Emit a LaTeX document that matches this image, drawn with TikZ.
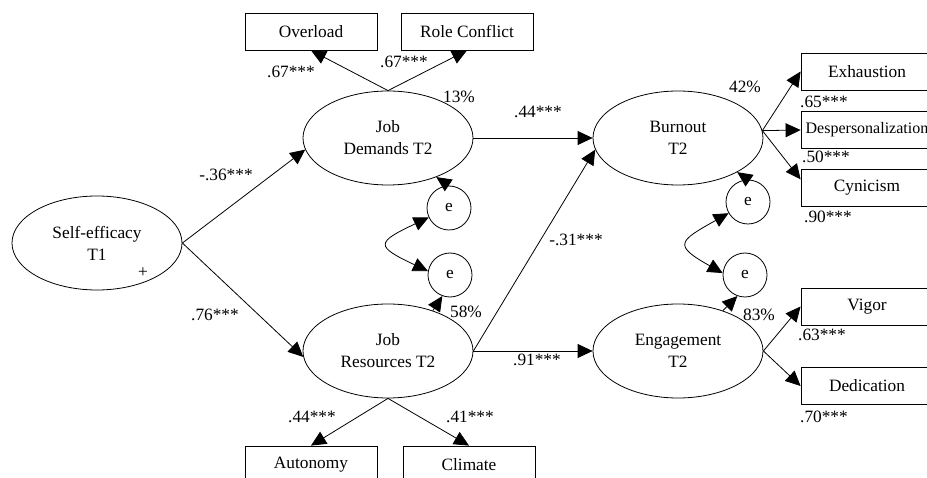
\documentclass[tikz,border=0pt]{standalone}
\usepackage{fontspec}
\setmainfont{Liberation Serif}
\usetikzlibrary{arrows.meta,shapes.geometric,positioning}

\begin{document}
\begin{tikzpicture}[x=1pt,y=-1pt,
    line width=0.8pt,
    font=\fontsize{17.3}{22}\selectfont,
    latent/.style={draw, ellipse, minimum width=170pt, minimum height=94pt, inner sep=0pt, align=center},
    indicator/.style={draw, rectangle, minimum width=132pt, minimum height=37pt, inner sep=0pt},
    errterm/.style={draw, circle, minimum size=44pt, inner sep=0pt},
    effect/.style={-{Triangle[length=15pt,width=14pt]}},
    covar/.style={{Triangle[length=15pt,width=14pt]}-{Triangle[length=15pt,width=14pt]}},
    coef/.style={inner sep=0pt}]

    \useasboundingbox (0,0) rectangle (927,478);
    \clip (0,0) rectangle (927,478);

    % latent variables
    \node[latent] (selfeff)   at (97,243)  {Self-efficacy\\T1};
    \node[latent] (demands)   at (388,138) {Job\\Demands T2};
    \node[latent] (resources) at (388,351) {Job\\Resources T2};
    \node[latent] (burnout)   at (678,138) {Burnout\\T2};
    \node[latent] (engage)    at (678,351) {Engagement\\T2};

    % indicators
    \node[indicator] (overload)  at (311,31.5)  {Overload};
    \node[indicator] (conflict)  at (467,31.5)  {Role Conflict};
    \node[indicator] (autonomy)  at (311,464.5) {Autonomy};
    \node[indicator] (climate)   at (469,464.5) {Climate};
    \node[indicator] (exhaust)   at (867,71.5)  {Exhaustion};
    \node[indicator, font=\fontsize{16}{20}\selectfont] (desperson) at (867,130) {Despersonalization};
    \node[indicator] (cynic)     at (867,187.5) {Cynicism};
    \node[indicator] (vigor)     at (867,306.5) {Vigor};
    \node[indicator] (dedic)     at (867,386)   {Dedication};

    % error terms
    \node[errterm] (eDem) at (449,208) {e};
    \node[errterm] (eRes) at (450,275) {e};
    \node[errterm] (eBur) at (748,202) {e};
    \node[errterm] (eEng) at (745,275) {e};

    % structural paths
    \draw[effect] (selfeff.east) -- (demands.188);
    \draw[effect] (selfeff.east) -- (resources.184);
    \draw[effect] (demands.east) -- (burnout.west);
    \draw[effect] (resources.east) -- (burnout.188);
    \draw[effect] (resources.east) -- (engage.west);

    % loadings
    \draw[effect] (demands.north) -- (overload.south);
    \draw[effect] (demands.north) -- (conflict.south);
    \draw[effect] (resources.south) -- (autonomy.north);
    \draw[effect] (resources.south) -- (climate.north);
    \draw[effect] (burnout.5) -- (exhaust.west);
    \draw[effect] (burnout.5) -- (desperson.west);
    \draw[effect] (burnout.5) -- (cynic.173);
    \draw[effect] (engage.east) -- (vigor.west);
    \draw[effect] (engage.east) -- (dedic.west);

    % errors
    \draw[effect] (eDem.north) -- (demands.-39);
    \draw[effect] (resources.42) -- (eRes.250);
    \draw[effect] (eBur.north) -- (burnout.-30);
    \draw[effect] (engage.42) -- (eEng.250);
    \draw[covar] (eDem.205) .. controls +(-53,25) and +(-53,-25) .. (eRes.170);
    \draw[covar] (eBur.210) .. controls +(-50,28) and +(-50,-28) .. (eEng.175);

    % coefficients
    \node[coef] (cSD)  at (226,175) {-.36***};
    \node[coef] (cSR)  at (215,315) {.76***};
    \node[coef] (cOv)  at (291,72)  {.67***};
    \node[coef] (cRC)  at (404,62)  {.67***};
    \node[coef] (cAu)  at (312,417) {.44***};
    \node[coef] (cCl)  at (470,417) {.41***};
    \node[coef] (cDB)  at (538,112) {.44***};
    \node[coef] (cRB)  at (576,240) {-.31***};
    \node[coef] (cRE)  at (537,360) {.91***};
    \node[coef] (cEx)  at (824,102) {.65***};
    \node[coef] (cDp)  at (826,157) {.50***};
    \node[coef] (cCy)  at (828,217) {.90***};
    \node[coef] (cVi)  at (822,335) {.63***};
    \node[coef] (cDe)  at (824,417) {.70***};

    % explained variance
    \node[coef] (rDem) at (459,97)  {13\%};
    \node[coef] (rRes) at (466,312) {58\%};
    \node[coef] (rBur) at (745,87)  {42\%};
    \node[coef] (rEng) at (759,315) {83\%};
    \node[coef] (plus) at (143,273) {+};

\end{tikzpicture}
\end{document}
